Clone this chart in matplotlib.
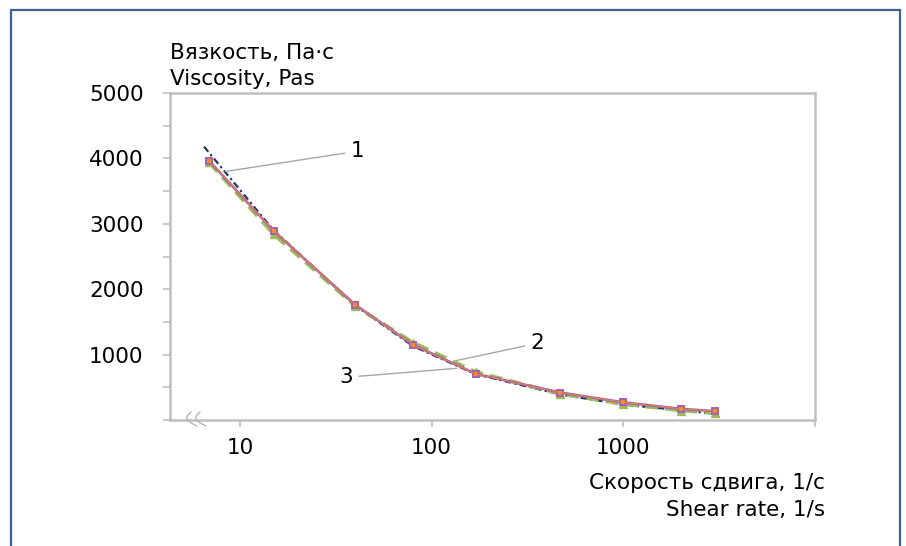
import matplotlib
matplotlib.use('Agg')
import matplotlib.pyplot as plt
from matplotlib.lines import Line2D
from matplotlib.patches import Rectangle
import numpy as np

# shear rate, 1/s
rate = [6.9, 15, 40, 80, 170, 470, 1000, 2000, 3000]
rate_fit = [6.5, 15, 40, 80, 170, 470, 1000, 2000, 3000]
# viscosity, Pa*s
visc_1 = [3965, 2890, 1760, 1150, 705, 420, 270, 170, 135]
visc_2 = [3940, 2840, 1740, 1185, 735, 400, 245, 145, 105]
visc_3 = [4180, 2900, 1750, 1130, 700, 390, 235, 150, 95]

xticks = [10, 100, 1000, 10000]
xticklabels = ['10', '100', '1000', '']
yticks = np.arange(0, 5001, 500)
yticklabels = ['' if v % 1000 or v == 0 else str(int(v)) for v in yticks]

W, H = 906, 546
fig = plt.figure(figsize=(W/100, H/100), dpi=100)
fig.patch.set_facecolor('white')
ax = fig.add_axes([170/W, 1-420/H, (815-170)/W, (420-93)/H])

grey = '#bfbfbf'
fs = 15.5

# curves
ax.plot(rate_fit, visc_3, color='#1f3864', lw=1.6, ls=(0, (3, 1.5, 1, 1.5)), zorder=3)
ax.plot(rate, visc_2, color='#9bbb59', lw=2.6, ls=(0, (3.5, 2)), marker='^',
        ms=6, mfc='#9bbb59', mec='#9bbb59', zorder=4)
ax.plot(rate, visc_1, color='#a35fb8', lw=1.9, marker='s', ms=5,
        mfc='#f28e1c', mec='#a35fb8', mew=1.4, zorder=5)
ax.plot(rate, visc_1, color='#f28e1c', lw=0.6, zorder=6)

ax.set_xscale('log')
ax.set_xlim(4.32, 10000)
ax.set_ylim(0, 5000)
ax.set_xticks(xticks)
ax.set_xticklabels(xticklabels)
ax.xaxis.set_minor_locator(matplotlib.ticker.NullLocator())
ax.set_yticks(yticks)
ax.set_yticklabels(yticklabels)

for s in ax.spines.values():
    s.set_color(grey)
    s.set_linewidth(1.8)
ax.tick_params(axis='both', colors=grey, length=5, width=1.2, labelsize=fs,
               labelcolor='black')
ax.tick_params(axis='y', pad=14)
ax.tick_params(axis='x', pad=8)

# leader labels
lp = dict(arrowstyle='-', color='#a6a6a6', lw=1, shrinkA=2, shrinkB=0)
ax.annotate('1', xy=(8.4, 3800), xytext=(41, 4110), fontsize=fs,
            ha='center', va='center', arrowprops=lp)
ax.annotate('2', xy=(134, 907), xytext=(355, 1172), fontsize=fs,
            ha='center', va='center', arrowprops=lp)
ax.annotate('3', xy=(135, 790), xytext=(36, 653), fontsize=fs,
            ha='center', va='center', arrowprops=lp)

# axis titles
fig.text(170/W, 1-53/H, 'Вязкость, Па·с', fontsize=fs, ha='left', va='center')
fig.text(170/W, 1-79/H, 'Viscosity, Pas', fontsize=fs, ha='left', va='center')
fig.text(825/W, 1-483/H, 'Скорость сдвига, 1/с', fontsize=fs, ha='right', va='center')
fig.text(825/W, 1-510/H, 'Shear rate, 1/s', fontsize=fs, ha='right', va='center')

# axis break mark
for x0 in (187, 196):
    t = np.linspace(-1, 1, 21)
    px = x0 + 7 - 7*np.cos(t*np.pi/2) + 3*t
    py = 419 + 7*t
    fig.add_artist(Line2D(px/W, 1-py/H, color='#b0b0b0', lw=0.9))

# frame
fig.add_artist(Rectangle((11/W, -0.02), (900-11)/W, (546-10)/H + 0.02,
                         transform=fig.transFigure, fill=False,
                         edgecolor='#3e6189', lw=1.6))

fig.savefig('out.png', dpi=100)
